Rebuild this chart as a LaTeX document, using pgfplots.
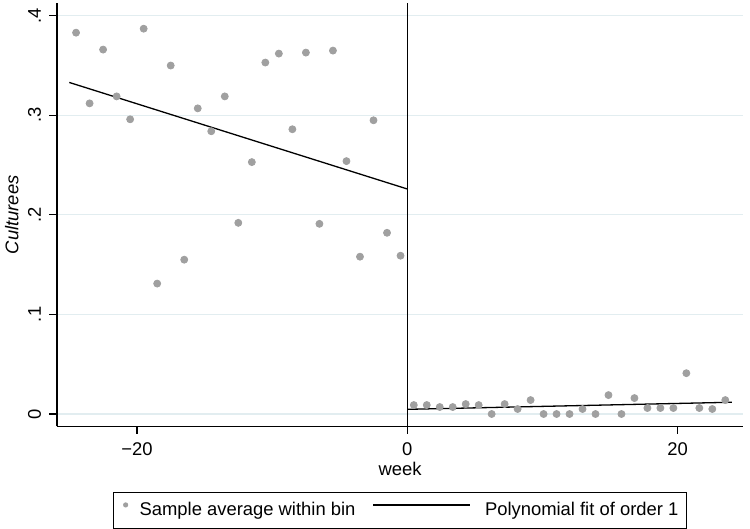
\documentclass[border=0pt]{standalone}
\usepackage{fontspec}
\setmainfont{Liberation Sans}
\usepackage{pgfplots}
\pgfplotsset{compat=1.18}
\usetikzlibrary{calc}
\definecolor{markgray}{RGB}{160,160,160}
\definecolor{gridc}{RGB}{226,237,240}
\begin{document}
\fontsize{9.2}{11}\selectfont
\begin{tikzpicture}
\begin{axis}[
  scale only axis, width=343pt, height=211.5pt,
  xmin=-25.91, xmax=24.83, ymin=-0.01236, ymax=0.4125,
  axis x line*=bottom, axis y line*=left,
  axis line style={line width=0.6pt, -},
  /pgf/number format/assume math mode=true,
  xtick={-20,0,20}, xticklabels={−20,0,20},
  ytick={0,0.1,0.2,0.3,0.4}, yticklabels={0,.1,.2,.3,.4},
  yticklabel style={rotate=90, anchor=south, inner sep=0pt},
  yticklabel shift=4pt,
  xticklabel style={anchor=base, inner sep=0pt, yshift=-11pt},
  tick align=outside, major tick length=3.8pt,
  tick style={line width=0.6pt, black},
  ymajorgrids, grid style={color=gridc, line width=0.6pt},
  xlabel={week}, ylabel={\itshape Culturees},
  xlabel style={at={(axis description cs:0.5,-0.1158)}, anchor=base, inner sep=0pt},
  ylabel style={at={(axis description cs:-0.0564,0.5)}, anchor=base, inner sep=0pt},
  legend style={at={(axis description cs:0.5,-0.1544)}, anchor=north,
    draw=black, line width=0.5pt, inner xsep=4pt, inner ysep=5pt,
    nodes={inner sep=0pt, text height=6.7pt, text depth=1.3pt},
    /tikz/column 1/.style={column sep=0pt},
    /tikz/column 2/.style={column sep=8.5pt},
    /tikz/column 3/.style={column sep=0pt}},
  legend columns=2, legend cell align=left,
]
\addplot[only marks, mark=*, mark size=1.75pt, color=markgray,
  legend image code/.code={\path[draw=none,fill=none] (0pt,0pt) -- (9pt,0pt); \fill[markgray, draw=none] (2pt,2.6pt) circle (1.3pt);}]
coordinates {
(-24.5,0.383) (-23.5,0.312) (-22.5,0.366) (-21.5,0.319) (-20.5,0.296)
(-19.5,0.387) (-18.5,0.131) (-17.5,0.350) (-16.5,0.155) (-15.5,0.307)
(-14.5,0.284) (-13.5,0.319) (-12.5,0.192) (-11.5,0.253) (-10.5,0.353)
(-9.5,0.362) (-8.5,0.286) (-7.5,0.363) (-6.5,0.191) (-5.5,0.365)
(-4.5,0.254) (-3.5,0.158) (-2.5,0.295) (-1.5,0.182) (-0.5,0.159)
};
\addlegendentry{Sample average within bin}
\addplot[only marks, mark=*, mark size=1.75pt, color=markgray, forget plot]
coordinates {
(0.48,0.009) (1.44,0.009) (2.40,0.007) (3.36,0.007) (4.32,0.010)
(5.28,0.009) (6.24,0.000) (7.20,0.010) (8.16,0.005) (9.12,0.014)
(10.08,0.000) (11.04,0.000) (12.00,0.000) (12.96,0.005) (13.92,0.000)
(14.88,0.019) (15.84,0.000) (16.80,0.016) (17.76,0.006) (18.72,0.006)
(19.68,0.006) (20.64,0.041) (21.60,0.006) (22.56,0.005) (23.52,0.014)
};
\addplot[black, line width=0.65pt,
  legend image code/.code={\draw[black, line width=0.6pt] (0pt,2.6pt) -- (48.5pt,2.6pt); \path[draw=none] (56pt,0pt);}]
coordinates {(-25,0.333) (0,0.226)};
\addlegendentry{Polynomial fit of order 1}
\addplot[black, line width=0.65pt, forget plot] coordinates {(0,0.0047) (24,0.0118)};
\addplot[black, line width=0.65pt, forget plot] coordinates {(0,-0.01236) (0,0.4125)};
\end{axis}
\pgfresetboundingbox
\useasboundingbox ($(current axis.south west)+(-28.5pt,-51pt)$) rectangle ($(current axis.north east)+(3.5pt,1.65pt)$);
\end{tikzpicture}
\end{document}
